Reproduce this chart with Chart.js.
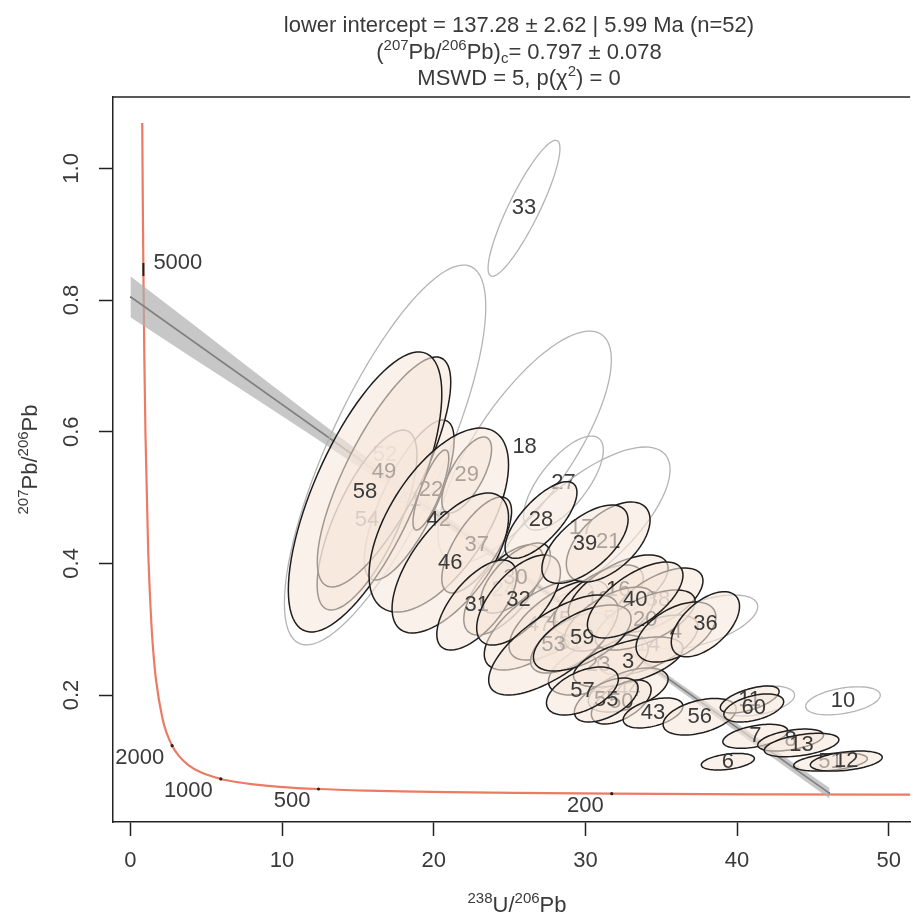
<!DOCTYPE html>
<html>
<head>
<meta charset="utf-8">
<script src="https://cdn.jsdelivr.net/npm/chart.js@4.4.1/dist/chart.umd.min.js"></script>
<style>
  html, body { margin: 0; padding: 0; background: #fff; overflow: hidden; }
  canvas { display: block; }
</style>
</head>
<body>
<canvas id="chart" width="913" height="919"></canvas>
<script>
// ---- data ----
const xTicks = [0, 10, 20, 30, 40, 50];
const yTicks = [0.2, 0.4, 0.6, 0.8, 1.0];

// concordia (238U/206Pb, 207Pb/206Pb)
const concX = [0.7776, 0.8176, 0.8532, 0.9180, 0.9902, 1.1630, 1.3869, 1.5254, 1.6874, 2.1108, 2.3941, 2.7490, 3.2062, 3.8170, 4.6732, 5.9586, 6.8787, 8.1048, 9.8225, 12.399, 15.621, 17.923, 20.992, 25.289, 31.735, 42.477, 53.22];
const concY = [1.0688, 0.9403, 0.8457, 0.7098, 0.5970, 0.4252, 0.3060, 0.2607, 0.2228, 0.1643, 0.1419, 0.1230, 0.1071, 0.0936, 0.0822, 0.0725, 0.0682, 0.0643, 0.0606, 0.0572, 0.0547, 0.0535, 0.0524, 0.0512, 0.0501, 0.0491, 0.0485];

// age marks on the concordia (Ma)
const ageLabels = ["5000", "2000", "1000", "500", "200"];
const ageX = [0.853, 2.749, 5.959, 12.399, 31.735];
const ageY = [0.8457, 0.1230, 0.0725, 0.0572, 0.0501];

// isochron line and its confidence band
const regX = [0, 46.1];
const regY = [0.805, 0.0506];
const bandX = [0, 4, 8, 12, 16, 20, 24, 28, 32, 36, 40, 44, 46.1];
const bandUp = [0.836, 0.7655, 0.694, 0.6236, 0.5541, 0.4856, 0.4181, 0.3516, 0.2862, 0.2212, 0.1567, 0.0922, 0.0586];
const bandLo = [0.774, 0.7135, 0.654, 0.5936, 0.5321, 0.4696, 0.4061, 0.3416, 0.2762, 0.2102, 0.1437, 0.0772, 0.0426];

// error ellipses (drawing order): outliers, hidden ones, then the visible ones
const ellId = ["52", "18", "33", "27", "17", "10", "", "",
  "41", "24", "47", "45", "19", "16", "38", "14", "23", "44",
  "54", "49", "58", "22", "29", "42", "37", "46", "30", "31", "32", "28", "21", "39", "61", "5", "20", "53",
  "59", "40", "3", "4", "36", "50", "55", "57", "43", "56", "11", "60", "7", "8", "13", "6", "51", "12"];
const ellX = [16.79, 25.99, 25.95, 28.55, 29.73, 46.98, 37.75, 41.36,
  18.38, 24.61, 26.94, 28.25, 30.85, 32.16, 34.79, 34.13, 30.85, 32.82,
  15.60, 16.72, 15.47, 19.81, 22.17, 20.33, 22.83, 21.09, 25.39, 22.83, 25.59, 27.07, 31.50, 29.97, 29.01, 31.57, 33.94, 27.89,
  29.79, 33.28, 32.82, 35.97, 37.91, 32.36, 31.37, 29.80, 34.46, 37.53, 40.83, 41.10, 41.20, 43.53, 44.25, 39.39, 46.16, 47.20];
const ellSX = [6.64, 5.72, 2.37, 2.63, 5.85, 2.46, 3.61, 2.43,
  2.96, 2.63, 3.61, 3.29, 2.96, 3.29, 2.96, 3.29, 3.29, 2.63,
  3.29, 4.40, 5.06, 1.18, 1.64, 4.60, 2.30, 3.84, 2.30, 2.63, 2.76, 2.37, 2.76, 2.84, 2.63, 2.96, 3.29, 4.27,
  3.22, 3.15, 3.61, 2.63, 2.25, 1.97, 2.10, 2.37, 1.97, 2.41, 1.94, 1.97, 2.14, 2.17, 2.46, 1.75, 2.43, 2.37];
const ellY = [0.5646, 0.5767, 0.9393, 0.5220, 0.4537, 0.1912, 0.3109, 0.1909,
  0.4962, 0.3595, 0.3063, 0.3139, 0.3443, 0.3595, 0.3443, 0.2760, 0.2456, 0.2076,
  0.4658, 0.5388, 0.5084, 0.5114, 0.5342, 0.4658, 0.4279, 0.4005, 0.3777, 0.3367, 0.3443, 0.4658, 0.4324, 0.4291, 0.2790, 0.3154, 0.3139, 0.2760,
  0.2866, 0.3443, 0.2501, 0.2957, 0.3075, 0.1894, 0.1924, 0.2061, 0.1727, 0.1670, 0.1932, 0.1803, 0.1373, 0.1316, 0.1240, 0.0987, 0.0982, 0.0997];
const ellSY = [0.2886, 0.1762, 0.1033, 0.0714, 0.1230, 0.0213, 0.0410, 0.0228,
  0.1215, 0.0684, 0.0684, 0.0608, 0.0532, 0.0532, 0.0486, 0.0456, 0.0456, 0.0334,
  0.1367, 0.1747, 0.2127, 0.0608, 0.0577, 0.1398, 0.0729, 0.1063, 0.0532, 0.0684, 0.0684, 0.0582, 0.0608, 0.0595, 0.0456, 0.0486, 0.0456, 0.0760,
  0.0501, 0.0577, 0.0380, 0.0456, 0.0494, 0.0334, 0.0334, 0.0365, 0.0228, 0.0278, 0.0205, 0.0213, 0.0182, 0.0167, 0.0178, 0.0126, 0.0137, 0.0152];
const ellRho = [0.78, 0.75, 0.88, 0.70, 0.72, 0.40, 0.57, 0.40,
  0.75, 0.65, 0.65, 0.65, 0.62, 0.62, 0.60, 0.60, 0.55, 0.50,
  0.72, 0.78, 0.70, 0.80, 0.68, 0.60, 0.70, 0.65, 0.65, 0.65, 0.62, 0.72, 0.55, 0.62, 0.60, 0.62, 0.62, 0.70,
  0.58, 0.65, 0.55, 0.50, 0.55, 0.55, 0.55, 0.50, 0.45, 0.42, 0.60, 0.45, 0.45, 0.45, 0.45, 0.38, 0.38, 0.38];
const ellOut = [1, 1, 1, 1, 1, 1, 1, 1,
  0, 0, 0, 0, 0, 0, 0, 0, 0, 0,
  0, 0, 0, 0, 0, 0, 0, 0, 0, 0, 0, 0, 0, 0, 0, 0, 0, 0,
  0, 0, 0, 0, 0, 0, 0, 0, 0, 0, 0, 0, 0, 0, 0, 0, 0, 0];

// title and axis titles: [text, "sup" | "sub" | ""]
const titleLines = [
  [["lower intercept = 137.28 \u00b1 2.62 | 5.99 Ma (n=52)", ""]],
  [["(", ""], ["207", "sup"], ["Pb/", ""], ["206", "sup"], ["Pb)", ""], ["c", "sub"], ["= 0.797 \u00b1 0.078", ""]],
  [["MSWD = 5, p(\u03c7", ""], ["2", "sup"], [") = 0", ""]]
];
const xTitle = [["238", "sup"], ["U/", ""], ["206", "sup"], ["Pb", ""]];
const yTitle = [["207", "sup"], ["Pb/", ""], ["206", "sup"], ["Pb", ""]];

const FONT = "'Liberation Sans', Arial, sans-serif";
const TEXT = "#3a3a3a";

function pts(xs, ys) {
    return xs.map((v, i) => ({ x: v, y: ys[i] }));
}

// draws text with superscripts / subscripts, centred on x
function drawRich(ctx, parts, x, y, size) {
    const small = Math.round(size * 0.68);
    let w = 0;
    parts.forEach(([t, k]) => {
        ctx.font = (k ? small : size) + "px " + FONT;
        w += ctx.measureText(t).width;
    });
    let cx = x - w / 2;
    parts.forEach(([t, k]) => {
        ctx.font = (k ? small : size) + "px " + FONT;
        const dy = k === "sup" ? -size * 0.4 : (k === "sub" ? size * 0.2 : 0);
        ctx.fillText(t, cx, y + dy);
        cx += ctx.measureText(t).width;
    });
}

// 🔹 error ellipses + sample numbers
const ellipsePlugin = {
    id: "ellipses",
    afterDatasetsDraw(chart) {
        const { ctx, chartArea, scales: { x, y } } = chart;
        ctx.save();
        ctx.beginPath();
        ctx.rect(chartArea.left, chartArea.top, chartArea.right - chartArea.left, chartArea.bottom - chartArea.top);
        ctx.clip();
        ctx.textAlign = "center";
        ctx.textBaseline = "middle";
        ctx.font = "22px " + FONT;
        ellId.forEach((id, i) => {
            const r = ellRho[i];
            ctx.beginPath();
            for (let k = 0; k <= 90; k++) {
                const t = k / 90 * 2 * Math.PI;
                const vx = ellX[i] + ellSX[i] * Math.cos(t);
                const vy = ellY[i] + ellSY[i] * (r * Math.cos(t) + Math.sqrt(1 - r * r) * Math.sin(t));
                const px = x.getPixelForValue(vx);
                const py = y.getPixelForValue(vy);
                if (k === 0) ctx.moveTo(px, py); else ctx.lineTo(px, py);
            }
            ctx.closePath();
            if (!ellOut[i]) {
                ctx.fillStyle = "rgba(246,232,220,0.6)";
                ctx.fill();
                ctx.strokeStyle = "#1e1e1e";
                ctx.lineWidth = 1.5;
            } else {
                ctx.strokeStyle = "#b4b4b4";
                ctx.lineWidth = 1.3;
            }
            ctx.stroke();
            if (id) {
                ctx.fillStyle = TEXT;
                ctx.fillText(id, x.getPixelForValue(ellX[i]), y.getPixelForValue(ellY[i]));
            }
        });
        ctx.restore();
    }
};

// 🔹 frame, titles and concordia ages
const decorPlugin = {
    id: "decor",
    afterDraw(chart) {
        const { ctx, chartArea, scales: { x, y } } = chart;
        ctx.save();
        // top edge of the box
        ctx.strokeStyle = "#222";
        ctx.lineWidth = 1.5;
        ctx.beginPath();
        ctx.moveTo(chartArea.left, chartArea.top);
        ctx.lineTo(chartArea.right, chartArea.top);
        ctx.stroke();

        // age marks
        ctx.fillStyle = "#222";
        ageLabels.forEach((lab, i) => {
            const px = x.getPixelForValue(ageX[i]);
            const py = y.getPixelForValue(ageY[i]);
            if (i === 0) {
                ctx.fillRect(px - 1, py - 7, 2, 13);
            } else {
                ctx.beginPath();
                ctx.arc(px, py, 1.6, 0, 2 * Math.PI);
                ctx.fill();
            }
        });
        ctx.fillStyle = TEXT;
        ctx.font = "22px " + FONT;
        ctx.textBaseline = "middle";
        ageLabels.forEach((lab, i) => {
            const px = x.getPixelForValue(ageX[i]);
            const py = y.getPixelForValue(ageY[i]);
            if (i === 0) {
                ctx.textAlign = "left";
                ctx.fillText(lab, px + 10, py - 7);
            } else {
                ctx.textAlign = "right";
                ctx.fillText(lab, px - 8, py + 12);
            }
        });

        // title
        ctx.textAlign = "left";
        ctx.textBaseline = "alphabetic";
        const baselines = [32, 59, 85];
        titleLines.forEach((parts, i) => drawRich(ctx, parts, 519, baselines[i], 22));

        // axis titles
        drawRich(ctx, xTitle, 517, 912, 22);
        ctx.translate(37, (chartArea.top + chartArea.bottom) / 2);
        ctx.rotate(-Math.PI / 2);
        drawRich(ctx, yTitle, 0, 0, 22);
        ctx.restore();
    }
};

new Chart(document.getElementById("chart"), {
    type: "scatter",
    data: {
        datasets: [
            {
                data: pts(bandX, bandUp),
                showLine: true,
                borderWidth: 0,
                pointRadius: 0,
                backgroundColor: "rgba(175,175,175,0.7)",
                fill: "+1"
            },
            {
                data: pts(bandX, bandLo),
                showLine: true,
                borderWidth: 0,
                pointRadius: 0,
                fill: false
            },
            {
                data: pts(regX, regY),
                showLine: true,
                borderColor: "#111",
                borderWidth: 1.6,
                pointRadius: 0
            },
            {
                data: pts(concX, concY),
                showLine: true,
                borderColor: "#ec7b63",
                borderWidth: 2.2,
                pointRadius: 0,
                cubicInterpolationMode: "monotone"
            }
        ]
    },
    options: {
        responsive: false,
        animation: false,
        devicePixelRatio: 1,
        layout: { padding: { top: 97, left: 0, right: 0, bottom: 0 } },
        plugins: {
            legend: { display: false },
            tooltip: { enabled: false }
        },
        scales: {
            x: {
                type: "linear",
                min: -1.15,
                max: 51.41,
                afterFit: (s) => { s.height = 97; },
                afterBuildTicks: (s) => { s.ticks = xTicks.map(v => ({ value: v })); },
                border: { display: true, color: "#222", width: 1.5 },
                grid: { display: true, drawOnChartArea: false, drawTicks: true, tickLength: 14, tickColor: "#222", tickWidth: 1.5 },
                ticks: { color: TEXT, font: { family: FONT, size: 22 }, padding: 12, maxRotation: 0 }
            },
            y: {
                type: "linear",
                min: 0.0071,
                max: 1.1084,
                afterFit: (s) => { s.width = 113; },
                afterBuildTicks: (s) => { s.ticks = yTicks.map(v => ({ value: v })); },
                border: { display: true, color: "#222", width: 1.5 },
                grid: { display: true, drawOnChartArea: false, drawTicks: true, tickLength: 14, tickColor: "#222", tickWidth: 1.5 },
                ticks: {
                    color: TEXT,
                    font: { family: FONT, size: 22 },
                    padding: 12,
                    minRotation: 90,
                    maxRotation: 90,
                    crossAlign: "center",
                    callback: (v) => v.toFixed(1)
                }
            }
        }
    },
    plugins: [ellipsePlugin, decorPlugin]
});
</script>
</body>
</html>
